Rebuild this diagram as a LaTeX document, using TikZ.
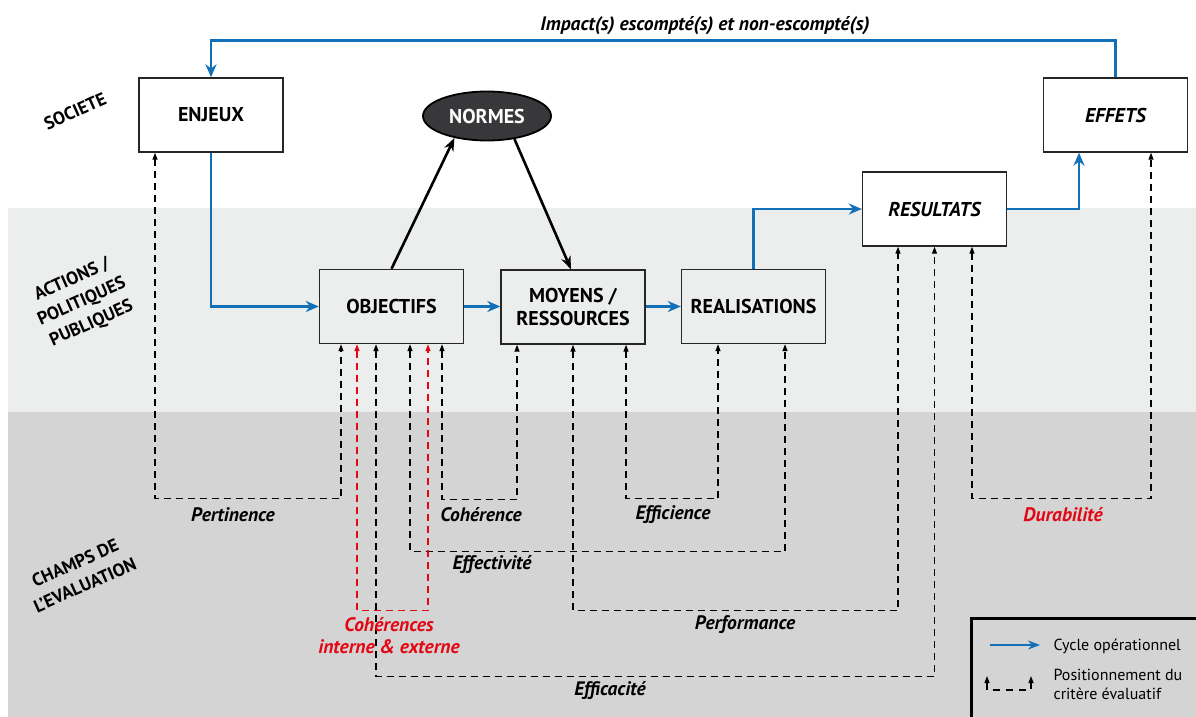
\documentclass[tikz,border=0pt]{standalone}
\usepackage{fontspec}
\setmainfont{PT Sans}
\usetikzlibrary{arrows.meta,shapes.geometric,calc}
\definecolor{cycleblue}{HTML}{1270B9}
\definecolor{critred}{HTML}{E30613}
\definecolor{bandlight}{HTML}{ECEDED}
\definecolor{banddark}{HTML}{D4D4D4}
\definecolor{normfill}{HTML}{38383A}
\begin{document}
\begin{tikzpicture}[x=1pt,y=-1pt,
  stagebox/.style={draw=black!85,line width=1.4pt,fill=white,minimum width=144pt,minimum height=74pt,inner sep=0pt,
    font=\fontsize{20}{23}\selectfont\bfseries,align=center},
  stagetint/.style={stagebox,fill=bandlight},
  cycle/.style={draw=cycleblue,line width=2.8pt,-{Stealth[length=13pt,width=11pt]}},
  normarrow/.style={draw=black,line width=2.6pt,-{Stealth[length=13pt,width=10pt]}},
  crit/.style={draw=black,line width=1.3pt,dash pattern=on 7pt off 5pt,{Triangle[length=7pt,width=5pt]}-{Triangle[length=7pt,width=5pt]}},
  critr/.style={crit,draw=critred,{Triangle[length=7pt,width=5pt,fill=critred]}-{Triangle[length=7pt,width=5pt,fill=critred]}},
  critlabel/.style={font=\fontsize{19.5}{22}\selectfont\bfseries\itshape},
  zonelabel/.style={font=\fontsize{18}{24}\selectfont\bfseries,align=center,rotate=24},
  legtext/.style={font=\fontsize{16}{19}\selectfont,anchor=west,align=left}]
\useasboundingbox (0,0) rectangle (1196,717);
% bands
\fill[bandlight] (8,208) rectangle (1196,412);
\fill[banddark] (8,412) rectangle (1196,717);

% zone labels
\node[zonelabel] (zsoc) at (75,111) {SOCIETE};
\node[zonelabel] (zact) at (82,302) {ACTIONS /\\POLITIQUES\\PUBLIQUES};
\node[zonelabel] (zchp) at (80,574) {CHAMPS DE\\L'EVALUATION};

% stages
\node[stagebox] (enjeux) at (211,115) {ENJEUX};
\node[ellipse,draw=black,line width=1.8pt,fill=normfill,text=white,minimum width=128pt,minimum height=49pt,inner sep=0pt,
  font=\fontsize{20}{23}\selectfont\bfseries] (normes) at (487,116) {NORMES};
\node[stagetint] (objectifs) at (391.5,306.5) {OBJECTIFS};
\node[stagetint] (moyens) at (573,307) {MOYENS /\\RESSOURCES};
\node[stagetint] (realisations) at (753.5,306.5) {REALISATIONS};
\node[stagebox,font=\fontsize{20}{23}\selectfont\bfseries\itshape] (resultats) at (934.5,209) {RESULTATS};
\node[stagebox,font=\fontsize{20}{23}\selectfont\bfseries\itshape] (effets) at (1115.5,115) {EFFETS};

% operational cycle
\draw[cycle] (effets.north) -- ++(0,-37) coordinate (looptop) -| (enjeux.north);
\node[critlabel] (impact) at (705,26) {Impact(s) escompté(s) et non-escompté(s)};
\draw[cycle] (enjeux.south) |- (objectifs.west);
\draw[cycle] (objectifs.east) -- (objectifs.east -| moyens.west);
\draw[cycle] (moyens.east |- realisations.west) -- (realisations.west);
\draw[cycle] (realisations.north) |- (resultats.west);
\draw[cycle] (resultats.east) -| ([xshift=-36.5pt]effets.south);

% norms
\draw[normarrow] (objectifs.north) -- (normes.214);
\draw[normarrow] (normes.320) -- ([xshift=-2pt]moyens.north);

% evaluation criteria
\draw[crit] ([xshift=-56pt]enjeux.south) -- ++(0,346) -| ([xshift=-50.5pt]objectifs.south);
\node[critlabel] (pertinence) at (233,515) {Pertinence};
\draw[crit] ([xshift=50.5pt]objectifs.south) -- ++(0,155) -| ([xshift=-56pt]moyens.south);
\node[critlabel] (coherence) at (481,515) {Cohérence};
\draw[crit] ([xshift=53pt]moyens.south) -- ++(0,154) -| ([xshift=-35.5pt]realisations.south);
\node[critlabel] (efficience) at (673,515) {Efficience};
\draw[crit] ([xshift=18.5pt]objectifs.south) -- ++(0,207) -| ([xshift=31.5pt]realisations.south);
\node[critlabel] (effectivite) at (492,565) {Effectivité};
\draw[crit] (moyens.south) -- ++(0,266) -| ([xshift=-36.5pt]resultats.south);
\node[critlabel] (performance) at (745,625) {Performance};
\draw[crit] ([xshift=-15.5pt]objectifs.south) -- ++(0,332) -| (resultats.south);
\node[critlabel] (efficacite) at (610,690) {Efficacité};
\draw[crit] ([xshift=37.5pt]resultats.south) -- ++(0,252) -| ([xshift=35.5pt]effets.south);
\node[critlabel,text=critred] (durabilite) at (1063,515) {Durabilité};
\draw[critr] ([xshift=-34.5pt]objectifs.south) -- ++(0,266) -| ([xshift=36.5pt]objectifs.south);
\node[critlabel,text=critred,align=center] (coherences) at (389,636) {Cohérences\\interne \& externe};

% legend
\node[draw=black,line width=2.5pt,fill=banddark,minimum width=240pt,minimum height=110pt,anchor=north west,inner sep=0pt] (legend) at (970,617) {};
\coordinate (lgA) at (990,645);
\coordinate (lgB) at (1040,645);
\draw[cycle,line width=2.4pt,-{Stealth[length=12pt,width=9pt]}] (lgA) -- (lgB);
\node[legtext] (lgcycle) at (1050,646) {Cycle opérationnel};
\coordinate (lgC) at (987,676);
\coordinate (lgD) at (1031,676);
\draw[crit,dash pattern=on 7pt off 6pt] (lgC) -- ++(0,14) -| (lgD);
\node[legtext] (lgcrit) at (1050,684) {Positionnement du\\critère évaluatif};
\end{tikzpicture}
\end{document}
